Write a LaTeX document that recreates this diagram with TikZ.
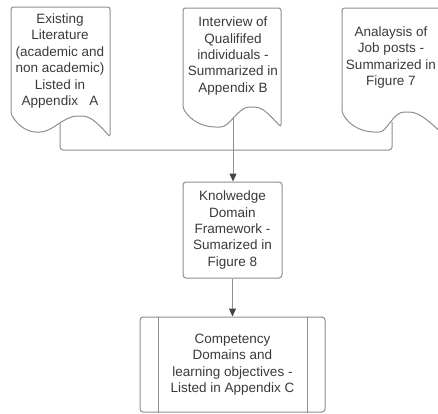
\documentclass[tikz,border=0pt]{standalone}
\usepackage{fontspec}
\setmainfont{Liberation Sans}
\usetikzlibrary{arrows.meta}
\definecolor{linec}{HTML}{8E8E8E}
\definecolor{txtc}{HTML}{3A3A3A}
\definecolor{tipc}{HTML}{454545}
\begin{document}
\begin{tikzpicture}[x=1pt,y=-1pt,
  docshape/.style={draw=linec, line width=1pt, fill=white, rounded corners=2.5pt},
  lbl/.style={text=txtc, align=center, font=\fontsize{13.5}{16.4}\selectfont, inner sep=0pt},
  box/.style={lbl, draw=linec, line width=1pt, rounded corners=3pt, fill=white},
  conn/.style={draw=linec, line width=1pt},
  arr/.style={conn, -{Triangle[length=8pt,width=7pt,color=tipc]}}
]
\useasboundingbox (0,0) rectangle (438,413);

% Document 1
\draw[docshape] (11,114) -- (11,7) -- (110,7) -- (110,137)
  .. controls (102,128) and (92,116) .. (80,116)
  .. controls (64,116) and (52,132) .. (38,132)
  .. controls (28,132) and (18,126) .. (11,114) -- cycle;
\node[lbl] (d1) at (60,61) {Existing\\Literature\\(academic and\\non academic)\\Listed in\\Appendix~~~A};
\coordinate (d1b) at (60,123.5);

% Document 2
\draw[docshape] (183,108) -- (183,8) -- (281,8) -- (281,127)
  .. controls (272,118) and (264,107) .. (252,107)
  .. controls (238,107) and (230,127) .. (218,127)
  .. controls (202,127) and (190,120) .. (183,108) -- cycle;
\node[lbl] (d2) at (233,56) {Interview of\\Qualififed\\individuals -\\Summarized in\\Appendix B};
\coordinate (d2b) at (233,117.5);

% Document 3
\draw[docshape] (342,112) -- (342,8) -- (446,8) -- (446,137)
  .. controls (432,124) and (420,112) .. (407,112)
  .. controls (393,112) and (387,132) .. (377,132)
  .. controls (360,132) and (348,124) .. (342,112) -- cycle;
\node[lbl] (d3) at (391,57.5) {Analaysis of\\Job posts -\\Summarized in\\Figure 7};
\coordinate (d3b) at (392,122);

% Junction
\coordinate (j) at (233,150);

% Knowledge box
\node[box, minimum width=99pt, minimum height=96pt] (kdf) at (232.5,230)
  {Knolwedge\\Domain\\Framework -\\Sumarized in\\Figure 8};

% Competency box
\node[box, minimum width=185pt, minimum height=95pt] (comp) at (232.5,364.5)
  {Competency\\Domains and\\learning objectives -\\Listed in Appendix C};
\draw[conn] ([xshift=19pt]comp.north west) -- ([xshift=19pt]comp.south west);
\draw[conn] ([xshift=-18pt]comp.north east) -- ([xshift=-18pt]comp.south east);

% Connectors
\draw[conn, rounded corners=3pt] (d1b) -- (d1b |- j) -- (d3b |- j) -- (d3b);
\draw[arr] (d2b) -- (d2b |- kdf.north);
\draw[arr] (kdf.south) -- (comp.north);
\end{tikzpicture}
\end{document}
